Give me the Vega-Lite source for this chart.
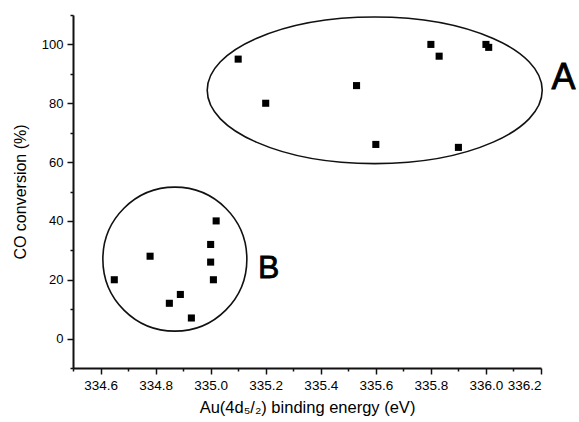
{
  "$schema": "https://vega.github.io/schema/vega-lite/v6.json",
  "width": 468,
  "height": 353,
  "autosize": "none",
  "padding": {"left": 73, "top": 15, "right": 38, "bottom": 54},
  "background": "white",
  "config": {"view": {"stroke": null}, "font": "Liberation Sans"},
  "datasets": {
    "points": [
      {"energy": 334.65, "conversion": 20, "group": "B"},
      {"energy": 334.78, "conversion": 28, "group": "B"},
      {"energy": 334.85, "conversion": 12, "group": "B"},
      {"energy": 334.89, "conversion": 15, "group": "B"},
      {"energy": 334.93, "conversion": 7, "group": "B"},
      {"energy": 335.0, "conversion": 32, "group": "B"},
      {"energy": 335.0, "conversion": 26, "group": "B"},
      {"energy": 335.01, "conversion": 20, "group": "B"},
      {"energy": 335.02, "conversion": 40, "group": "B"},
      {"energy": 335.1, "conversion": 95, "group": "A"},
      {"energy": 335.2, "conversion": 80, "group": "A"},
      {"energy": 335.53, "conversion": 86, "group": "A"},
      {"energy": 335.6, "conversion": 66, "group": "A"},
      {"energy": 335.8, "conversion": 100, "group": "A"},
      {"energy": 335.83, "conversion": 96, "group": "A"},
      {"energy": 336.0, "conversion": 100, "group": "A"},
      {"energy": 336.01, "conversion": 99, "group": "A"},
      {"energy": 335.9, "conversion": 65, "group": "A"}
    ],
    "groups": [
      {"group": "A", "cx": 335.596, "cy": 84.4, "lx": 336.238, "ly": 85.0},
      {"group": "B", "cx": 334.87, "cy": 27.0, "lx": 335.172, "ly": 20.7}
    ]
  },
  "resolve": {"axis": {"x": "independent", "y": "independent"}},
  "layer": [
    {
      "data": {"name": "groups"},
      "transform": [{"filter": "datum.group === 'A'"}],
      "mark": {
        "type": "point",
        "shape": "M1,0 C1,0.2417 0.5523,0.4376 0,0.4376 C-0.5523,0.4376 -1,0.2417 -1,0 C-1,-0.2417 -0.5523,-0.4376 0,-0.4376 C0.5523,-0.4376 1,-0.2417 1,0 Z",
        "size": 112225,
        "filled": false,
        "stroke": "#111",
        "strokeWidth": 1.6,
        "opacity": 1,
        "clip": false
      },
      "encoding": {
        "x": {"field": "cx", "type": "quantitative",
          "scale": {"domain": [334.5, 336.2], "nice": false, "zero": false},
          "axis": {"orient": "bottom", "values": [334.5, 334.7, 334.9, 335.1, 335.3, 335.5, 335.7, 335.9, 336.1],
            "labels": false, "domain": false, "grid": false, "tickSize": 3, "tickWidth": 1.5, "tickColor": "#111", "title": null}},
        "y": {"field": "cy", "type": "quantitative",
          "scale": {"domain": [-10, 110], "nice": false, "zero": false},
          "axis": {"orient": "left", "values": [-10, 10, 30, 50, 70, 90, 110],
            "labels": false, "domain": false, "grid": false, "tickSize": 3, "tickWidth": 1.5, "tickColor": "#111", "title": null}}
      }
    },
    {
      "data": {"name": "groups"},
      "transform": [{"filter": "datum.group === 'B'"}],
      "mark": {
        "type": "point",
        "shape": "M1,0 C1,0.5523 0.5523,1 0,1 C-0.5523,1 -1,0.5523 -1,0 C-1,-0.5523 -0.5523,-1 0,-1 C0.5523,-1 1,-0.5523 1,0 Z",
        "size": 20736,
        "filled": false,
        "stroke": "#111",
        "strokeWidth": 1.6,
        "opacity": 1,
        "clip": false
      },
      "encoding": {
        "x": {"field": "cx", "type": "quantitative", "scale": {"domain": [334.5, 336.2], "nice": false, "zero": false}, "axis": null},
        "y": {"field": "cy", "type": "quantitative", "scale": {"domain": [-10, 110], "nice": false, "zero": false}, "axis": null}
      }
    },
    {
      "data": {"name": "groups"},
      "transform": [{"filter": "datum.group === 'A'"}],
      "mark": {"type": "text", "fontSize": 36, "align": "left", "baseline": "alphabetic", "color": "black", "stroke": "black", "strokeWidth": 0.8, "clip": false},
      "encoding": {
        "x": {"field": "lx", "type": "quantitative", "scale": {"domain": [334.5, 336.2], "nice": false, "zero": false}, "axis": null},
        "y": {"field": "ly", "type": "quantitative", "scale": {"domain": [-10, 110], "nice": false, "zero": false}, "axis": null},
        "text": {"field": "group"}
      }
    },
    {
      "data": {"name": "groups"},
      "transform": [{"filter": "datum.group === 'B'"}],
      "mark": {"type": "text", "fontSize": 32, "align": "left", "baseline": "alphabetic", "color": "black", "stroke": "black", "strokeWidth": 0.8, "clip": false},
      "encoding": {
        "x": {"field": "lx", "type": "quantitative", "scale": {"domain": [334.5, 336.2], "nice": false, "zero": false}, "axis": null},
        "y": {"field": "ly", "type": "quantitative", "scale": {"domain": [-10, 110], "nice": false, "zero": false}, "axis": null},
        "text": {"field": "group"}
      }
    },
    {
      "data": {"name": "points"},
      "mark": {"type": "square", "size": 50, "color": "black", "opacity": 1, "filled": true},
      "encoding": {
        "x": {"field": "energy", "type": "quantitative",
          "scale": {"domain": [334.5, 336.2], "nice": false, "zero": false},
          "axis": {"orient": "bottom", "values": [334.6, 334.8, 335.0, 335.2, 335.4, 335.6, 335.8, 336.0, 336.2], "format": ".1f",
            "grid": false, "domainColor": "#111", "domainWidth": 2, "tickColor": "#111", "tickWidth": 1.5, "tickSize": 6,
            "labelColor": "#000", "labelFontSize": 13.5, "labelPadding": 4,
            "title": "Au(4d₅/₂) binding energy (eV)", "titleFontSize": 16.5, "titleFontWeight": "normal", "titleColor": "#000", "titlePadding": 8}},
        "y": {"field": "conversion", "type": "quantitative",
          "scale": {"domain": [-10, 110], "nice": false, "zero": false},
          "axis": {"orient": "left", "values": [0, 20, 40, 60, 80, 100], "format": "d",
            "grid": false, "domainColor": "#111", "domainWidth": 2, "tickColor": "#111", "tickWidth": 1.5, "tickSize": 6,
            "labelColor": "#000", "labelFontSize": 13, "labelPadding": 4,
            "title": "CO conversion (%)", "titleFontSize": 16, "titleFontWeight": "normal", "titleColor": "#000", "titlePadding": 13}}
      }
    }
  ]
}
